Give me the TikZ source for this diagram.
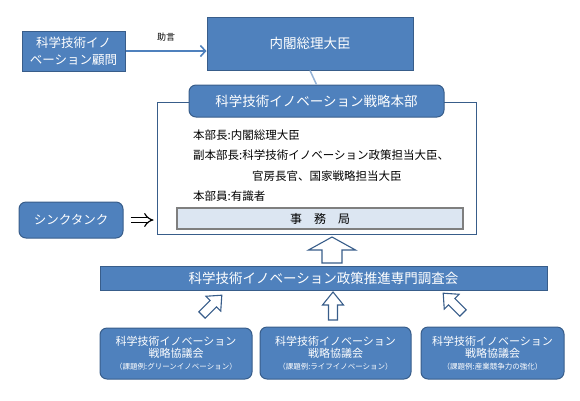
\documentclass[tikz,border=0pt]{standalone}
\usepackage{fontspec}
\setmainfont{Noto Sans CJK JP}
\usetikzlibrary{arrows.meta}
\definecolor{bfill}{HTML}{4F81BD}
\definecolor{bline}{HTML}{385D8A}
\definecolor{lblue}{HTML}{95B3D7}
\definecolor{jfill}{HTML}{DCE6F2}
\definecolor{jline}{HTML}{7F7F7F}
\newcommand\fs[2]{\fontsize{#1}{#2}\selectfont}
\newcommand\blockarr[6]{\draw[barrow, shift={#1}, rotate=#2] (0,-#4) -- ({#3-#6},-#4) -- ({#3-#6},-#5) -- (#3,0) -- ({#3-#6},#5) -- ({#3-#6},#4) -- (0,#4) -- cycle;}
\begin{document}
\begin{tikzpicture}[x=1pt,y=-1pt,
  bbox/.style={draw=bline, fill=bfill, line width=1pt, text=white, inner sep=0pt, align=center},
  rbox/.style={bbox, rounded corners=7pt},
  framebox/.style={draw=bline, line width=1pt, inner sep=0pt},
  jbox/.style={draw=jline, fill=jfill, line width=1.2pt, inner sep=0pt},
  bodytxt/.style={anchor=west, inner sep=0pt, font=\fs{11.5}{13}},
  barrow/.style={draw=bline, fill=white, line width=1.1pt, line join=miter},
  advice/.style={draw=bfill, line width=1.6pt, -{Straight Barb[length=5pt,width=11pt,line width=1.6pt]}},
  link/.style={draw=lblue, line width=1.5pt},
  implies/.style={draw=black, double=white, double distance=3.6pt, line width=1.2pt, -{Implies[length=6pt,width=12pt]}, shorten <=7pt, shorten >=3pt}
]
\useasboundingbox (0,0) rectangle (580,400);
% nodes
\node[bbox, minimum width=103, minimum height=40, font=\fs{12.5}{17}] (komon) at (73.5,51) {科学技術イノ\\ベーション顧問};
\node[bbox, minimum width=206, minimum height=53, font=\fs{13.5}{15}] (pm) at (310,43.5) {内閣総理大臣};
\node[framebox, minimum width=319, minimum height=132] (frame) at (316.5,168) {};
\node[rbox, minimum width=255, minimum height=32, font=\fs{13.5}{15}] (hq) at (316.5,101) {科学技術イノベーション戦略本部};
\node[bodytxt] (l1) at (193,135) {本部長:内閣総理大臣};
\node[bodytxt] (l2) at (193,155) {副本部長:科学技術イノベーション政策担当大臣、};
\node[bodytxt] (l3) at (252,176) {官房長官、国家戦略担当大臣};
\node[bodytxt] (l4) at (193,196) {本部員:有識者};
\node[jbox, minimum width=286, minimum height=21, font=\fs{12}{14}] (jim) at (320,218.5) {事　務　局};
\node[rbox, minimum width=104, minimum height=36, font=\fs{12.5}{15}] (think) at (71,220) {シンクタンク};
\node[bbox, minimum width=447, minimum height=24, font=\fs{13.5}{15}] (cho) at (323.5,278) {科学技術イノベーション政策推進専門調査会};
\node[rbox, minimum width=152, minimum height=51] (k1) at (176,353.5) {\fs{11}{12}科学技術イノベーション\\\fs{11}{12}戦略協議会\\\fs{7.5}{12}（課題例:グリーンイノベーション）};
\node[rbox, minimum width=151, minimum height=52] (k2) at (335.5,353) {\fs{11}{12}科学技術イノベーション\\\fs{11}{12}戦略協議会\\\fs{7.5}{12}（課題例:ライフイノベーション）};
\node[rbox, minimum width=143, minimum height=52] (k3) at (492.5,353) {\fs{11}{12}科学技術イノベーション\\\fs{11}{12}戦略協議会\\\fs{7.5}{12}（課題例:産業競争力の強化）};
% connectors
\draw[advice] (komon.east) -- (komon.east -| pm.west) node[midway, above=6pt, text=black, font=\fs{9}{10}] (jogen) {助言};
\draw[link] (pm.south) -- (hq.north);
\draw[implies] (think.east) -- (think.east -| frame.west);
% block arrows
\blockarr{(332,263)}{90}{26}{10}{23.5}{13}
\blockarr{(333,320)}{90}{28}{4.5}{10.5}{13}
\blockarr{(202,315)}{45}{28}{4.5}{10.5}{12}
\blockarr{(463,313)}{135}{28}{4.5}{10.5}{12}
\end{tikzpicture}
\end{document}
